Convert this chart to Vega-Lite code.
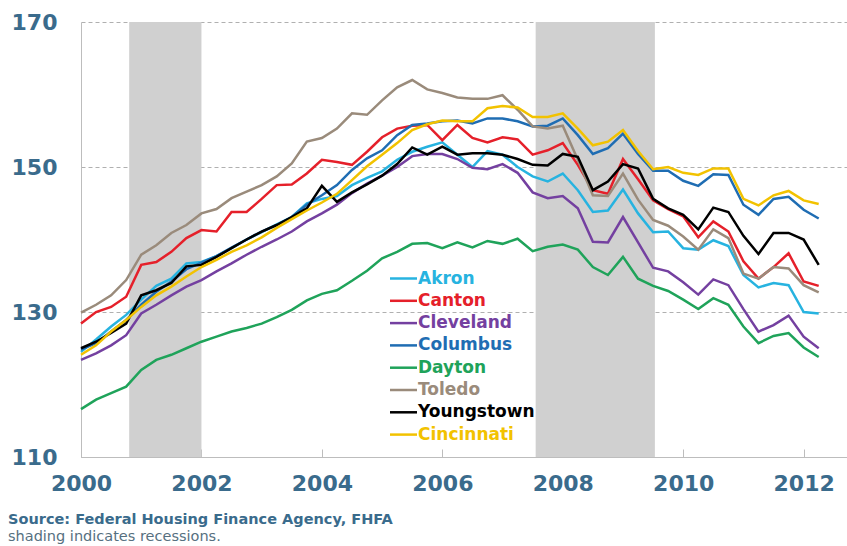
{
"$schema": "https://vega.github.io/schema/vega-lite/v6.json",
"width": 766, "height": 435,
"autosize": {"type": "none"},
"padding": {"left": 81, "top": 22, "right": 0, "bottom": 89},
"background": "white",
"config": {"view": {"stroke": null}, "font": "DejaVu Sans"},
"title": {"text": "Source: Federal Housing Finance Agency, FHFA", "subtitle": "shading indicates recessions.", "orient": "bottom", "anchor": "start", "frame": "group", "dx": -73, "offset": 19, "font": "DejaVu Sans", "fontSize": 14.5, "fontWeight": "bold", "color": "#3a6b8c", "subtitleFont": "DejaVu Sans", "subtitleFontSize": 14.5, "subtitleColor": "#56707f", "subtitlePadding": 2},
"datasets": {
"rec": [{"start": 2000.8, "end": 2002.0}, {"start": 2007.55, "end": 2009.53}],
"hpi": [
{"c":"Akron","t":2000,"v":124.5},{"c":"Akron","t":2000.25,"v":126.2},{"c":"Akron","t":2000.5,"v":128.0},{"c":"Akron","t":2000.75,"v":129.6},{"c":"Akron","t":2001,"v":131.7},{"c":"Akron","t":2001.25,"v":133.6},{"c":"Akron","t":2001.5,"v":134.6},{"c":"Akron","t":2001.75,"v":136.7},{"c":"Akron","t":2002,"v":136.9},{"c":"Akron","t":2002.25,"v":137.7},{"c":"Akron","t":2002.5,"v":138.8},{"c":"Akron","t":2002.75,"v":140.0},{"c":"Akron","t":2003,"v":141.0},{"c":"Akron","t":2003.25,"v":142.1},{"c":"Akron","t":2003.5,"v":143.1},{"c":"Akron","t":2003.75,"v":145.0},{"c":"Akron","t":2004,"v":145.6},{"c":"Akron","t":2004.25,"v":146.0},{"c":"Akron","t":2004.5,"v":147.5},{"c":"Akron","t":2004.75,"v":148.5},{"c":"Akron","t":2005,"v":149.4},{"c":"Akron","t":2005.25,"v":151.0},{"c":"Akron","t":2005.5,"v":152.1},{"c":"Akron","t":2005.75,"v":152.8},{"c":"Akron","t":2006,"v":153.4},{"c":"Akron","t":2006.25,"v":151.7},{"c":"Akron","t":2006.5,"v":150.0},{"c":"Akron","t":2006.75,"v":152.2},{"c":"Akron","t":2007,"v":151.7},{"c":"Akron","t":2007.25,"v":150.0},{"c":"Akron","t":2007.5,"v":148.7},{"c":"Akron","t":2007.75,"v":148.0},{"c":"Akron","t":2008,"v":149.1},{"c":"Akron","t":2008.25,"v":146.8},{"c":"Akron","t":2008.5,"v":143.8},{"c":"Akron","t":2008.75,"v":144.0},{"c":"Akron","t":2009,"v":146.9},{"c":"Akron","t":2009.25,"v":143.6},{"c":"Akron","t":2009.5,"v":141.0},{"c":"Akron","t":2009.75,"v":141.1},{"c":"Akron","t":2010,"v":138.8},{"c":"Akron","t":2010.25,"v":138.6},{"c":"Akron","t":2010.5,"v":139.9},{"c":"Akron","t":2010.75,"v":139.1},{"c":"Akron","t":2011,"v":135.1},{"c":"Akron","t":2011.25,"v":133.4},{"c":"Akron","t":2011.5,"v":134.0},{"c":"Akron","t":2011.75,"v":133.7},{"c":"Akron","t":2012,"v":130.0},{"c":"Akron","t":2012.25,"v":129.8},
{"c":"Canton","t":2000,"v":128.4},{"c":"Canton","t":2000.25,"v":130.0},{"c":"Canton","t":2000.5,"v":130.7},{"c":"Canton","t":2000.75,"v":132.1},{"c":"Canton","t":2001,"v":136.5},{"c":"Canton","t":2001.25,"v":136.9},{"c":"Canton","t":2001.5,"v":138.3},{"c":"Canton","t":2001.75,"v":140.2},{"c":"Canton","t":2002,"v":141.3},{"c":"Canton","t":2002.25,"v":141.1},{"c":"Canton","t":2002.5,"v":143.8},{"c":"Canton","t":2002.75,"v":143.8},{"c":"Canton","t":2003,"v":145.6},{"c":"Canton","t":2003.25,"v":147.5},{"c":"Canton","t":2003.5,"v":147.6},{"c":"Canton","t":2003.75,"v":149.1},{"c":"Canton","t":2004,"v":151.0},{"c":"Canton","t":2004.25,"v":150.7},{"c":"Canton","t":2004.5,"v":150.3},{"c":"Canton","t":2004.75,"v":152.1},{"c":"Canton","t":2005,"v":154.1},{"c":"Canton","t":2005.25,"v":155.3},{"c":"Canton","t":2005.5,"v":155.7},{"c":"Canton","t":2005.75,"v":155.8},{"c":"Canton","t":2006,"v":153.7},{"c":"Canton","t":2006.25,"v":155.8},{"c":"Canton","t":2006.5,"v":154.0},{"c":"Canton","t":2006.75,"v":153.4},{"c":"Canton","t":2007,"v":154.1},{"c":"Canton","t":2007.25,"v":153.8},{"c":"Canton","t":2007.5,"v":151.7},{"c":"Canton","t":2007.75,"v":152.3},{"c":"Canton","t":2008,"v":153.3},{"c":"Canton","t":2008.25,"v":150.3},{"c":"Canton","t":2008.5,"v":146.8},{"c":"Canton","t":2008.75,"v":146.3},{"c":"Canton","t":2009,"v":151.1},{"c":"Canton","t":2009.25,"v":148.3},{"c":"Canton","t":2009.5,"v":145.4},{"c":"Canton","t":2009.75,"v":144.2},{"c":"Canton","t":2010,"v":143.2},{"c":"Canton","t":2010.25,"v":140.3},{"c":"Canton","t":2010.5,"v":142.5},{"c":"Canton","t":2010.75,"v":141.1},{"c":"Canton","t":2011,"v":137.0},{"c":"Canton","t":2011.25,"v":134.6},{"c":"Canton","t":2011.5,"v":136.2},{"c":"Canton","t":2011.75,"v":138.1},{"c":"Canton","t":2012,"v":134.2},{"c":"Canton","t":2012.25,"v":133.6},
{"c":"Cleveland","t":2000,"v":123.4},{"c":"Cleveland","t":2000.25,"v":124.3},{"c":"Cleveland","t":2000.5,"v":125.4},{"c":"Cleveland","t":2000.75,"v":126.8},{"c":"Cleveland","t":2001,"v":129.8},{"c":"Cleveland","t":2001.25,"v":131.0},{"c":"Cleveland","t":2001.5,"v":132.3},{"c":"Cleveland","t":2001.75,"v":133.5},{"c":"Cleveland","t":2002,"v":134.4},{"c":"Cleveland","t":2002.25,"v":135.6},{"c":"Cleveland","t":2002.5,"v":136.7},{"c":"Cleveland","t":2002.75,"v":137.9},{"c":"Cleveland","t":2003,"v":139.0},{"c":"Cleveland","t":2003.25,"v":140.0},{"c":"Cleveland","t":2003.5,"v":141.1},{"c":"Cleveland","t":2003.75,"v":142.5},{"c":"Cleveland","t":2004,"v":143.6},{"c":"Cleveland","t":2004.25,"v":144.8},{"c":"Cleveland","t":2004.5,"v":146.4},{"c":"Cleveland","t":2004.75,"v":147.7},{"c":"Cleveland","t":2005,"v":148.8},{"c":"Cleveland","t":2005.25,"v":150.0},{"c":"Cleveland","t":2005.5,"v":151.5},{"c":"Cleveland","t":2005.75,"v":151.8},{"c":"Cleveland","t":2006,"v":151.8},{"c":"Cleveland","t":2006.25,"v":151.1},{"c":"Cleveland","t":2006.5,"v":149.9},{"c":"Cleveland","t":2006.75,"v":149.7},{"c":"Cleveland","t":2007,"v":150.4},{"c":"Cleveland","t":2007.25,"v":149.2},{"c":"Cleveland","t":2007.5,"v":146.5},{"c":"Cleveland","t":2007.75,"v":145.7},{"c":"Cleveland","t":2008,"v":146.0},{"c":"Cleveland","t":2008.25,"v":144.3},{"c":"Cleveland","t":2008.5,"v":139.7},{"c":"Cleveland","t":2008.75,"v":139.6},{"c":"Cleveland","t":2009,"v":143.1},{"c":"Cleveland","t":2009.25,"v":139.6},{"c":"Cleveland","t":2009.5,"v":136.1},{"c":"Cleveland","t":2009.75,"v":135.6},{"c":"Cleveland","t":2010,"v":134.1},{"c":"Cleveland","t":2010.25,"v":132.4},{"c":"Cleveland","t":2010.5,"v":134.5},{"c":"Cleveland","t":2010.75,"v":133.7},{"c":"Cleveland","t":2011,"v":130.4},{"c":"Cleveland","t":2011.25,"v":127.3},{"c":"Cleveland","t":2011.5,"v":128.2},{"c":"Cleveland","t":2011.75,"v":129.5},{"c":"Cleveland","t":2012,"v":126.6},{"c":"Cleveland","t":2012.25,"v":125.0},
{"c":"Columbus","t":2000,"v":124.8},{"c":"Columbus","t":2000.25,"v":125.7},{"c":"Columbus","t":2000.5,"v":127.3},{"c":"Columbus","t":2000.75,"v":128.9},{"c":"Columbus","t":2001,"v":131.0},{"c":"Columbus","t":2001.25,"v":132.8},{"c":"Columbus","t":2001.5,"v":134.2},{"c":"Columbus","t":2001.75,"v":135.9},{"c":"Columbus","t":2002,"v":136.8},{"c":"Columbus","t":2002.25,"v":137.7},{"c":"Columbus","t":2002.5,"v":138.9},{"c":"Columbus","t":2002.75,"v":140.0},{"c":"Columbus","t":2003,"v":141.1},{"c":"Columbus","t":2003.25,"v":142.0},{"c":"Columbus","t":2003.5,"v":143.1},{"c":"Columbus","t":2003.75,"v":144.8},{"c":"Columbus","t":2004,"v":146.1},{"c":"Columbus","t":2004.25,"v":147.5},{"c":"Columbus","t":2004.5,"v":149.6},{"c":"Columbus","t":2004.75,"v":151.2},{"c":"Columbus","t":2005,"v":152.3},{"c":"Columbus","t":2005.25,"v":154.4},{"c":"Columbus","t":2005.5,"v":155.8},{"c":"Columbus","t":2005.75,"v":156.0},{"c":"Columbus","t":2006,"v":156.3},{"c":"Columbus","t":2006.25,"v":156.4},{"c":"Columbus","t":2006.5,"v":156.0},{"c":"Columbus","t":2006.75,"v":156.7},{"c":"Columbus","t":2007,"v":156.7},{"c":"Columbus","t":2007.25,"v":156.3},{"c":"Columbus","t":2007.5,"v":155.6},{"c":"Columbus","t":2007.75,"v":155.7},{"c":"Columbus","t":2008,"v":156.7},{"c":"Columbus","t":2008.25,"v":154.4},{"c":"Columbus","t":2008.5,"v":151.8},{"c":"Columbus","t":2008.75,"v":152.6},{"c":"Columbus","t":2009,"v":154.6},{"c":"Columbus","t":2009.25,"v":151.8},{"c":"Columbus","t":2009.5,"v":149.5},{"c":"Columbus","t":2009.75,"v":149.5},{"c":"Columbus","t":2010,"v":148.1},{"c":"Columbus","t":2010.25,"v":147.4},{"c":"Columbus","t":2010.5,"v":149.0},{"c":"Columbus","t":2010.75,"v":148.9},{"c":"Columbus","t":2011,"v":144.8},{"c":"Columbus","t":2011.25,"v":143.4},{"c":"Columbus","t":2011.5,"v":145.6},{"c":"Columbus","t":2011.75,"v":145.9},{"c":"Columbus","t":2012,"v":144.1},{"c":"Columbus","t":2012.25,"v":142.9},
{"c":"Dayton","t":2000,"v":116.6},{"c":"Dayton","t":2000.25,"v":117.9},{"c":"Dayton","t":2000.5,"v":118.8},{"c":"Dayton","t":2000.75,"v":119.7},{"c":"Dayton","t":2001,"v":122.0},{"c":"Dayton","t":2001.25,"v":123.4},{"c":"Dayton","t":2001.5,"v":124.1},{"c":"Dayton","t":2001.75,"v":125.0},{"c":"Dayton","t":2002,"v":125.9},{"c":"Dayton","t":2002.25,"v":126.6},{"c":"Dayton","t":2002.5,"v":127.3},{"c":"Dayton","t":2002.75,"v":127.8},{"c":"Dayton","t":2003,"v":128.4},{"c":"Dayton","t":2003.25,"v":129.3},{"c":"Dayton","t":2003.5,"v":130.3},{"c":"Dayton","t":2003.75,"v":131.6},{"c":"Dayton","t":2004,"v":132.5},{"c":"Dayton","t":2004.25,"v":133.0},{"c":"Dayton","t":2004.5,"v":134.3},{"c":"Dayton","t":2004.75,"v":135.7},{"c":"Dayton","t":2005,"v":137.4},{"c":"Dayton","t":2005.25,"v":138.3},{"c":"Dayton","t":2005.5,"v":139.4},{"c":"Dayton","t":2005.75,"v":139.5},{"c":"Dayton","t":2006,"v":138.8},{"c":"Dayton","t":2006.25,"v":139.6},{"c":"Dayton","t":2006.5,"v":138.9},{"c":"Dayton","t":2006.75,"v":139.8},{"c":"Dayton","t":2007,"v":139.4},{"c":"Dayton","t":2007.25,"v":140.1},{"c":"Dayton","t":2007.5,"v":138.4},{"c":"Dayton","t":2007.75,"v":139.0},{"c":"Dayton","t":2008,"v":139.3},{"c":"Dayton","t":2008.25,"v":138.6},{"c":"Dayton","t":2008.5,"v":136.2},{"c":"Dayton","t":2008.75,"v":135.1},{"c":"Dayton","t":2009,"v":137.6},{"c":"Dayton","t":2009.25,"v":134.6},{"c":"Dayton","t":2009.5,"v":133.6},{"c":"Dayton","t":2009.75,"v":132.9},{"c":"Dayton","t":2010,"v":131.7},{"c":"Dayton","t":2010.25,"v":130.4},{"c":"Dayton","t":2010.5,"v":131.9},{"c":"Dayton","t":2010.75,"v":131.0},{"c":"Dayton","t":2011,"v":128.0},{"c":"Dayton","t":2011.25,"v":125.7},{"c":"Dayton","t":2011.5,"v":126.7},{"c":"Dayton","t":2011.75,"v":127.1},{"c":"Dayton","t":2012,"v":125.1},{"c":"Dayton","t":2012.25,"v":123.8},
{"c":"Toledo","t":2000,"v":129.9},{"c":"Toledo","t":2000.25,"v":131.0},{"c":"Toledo","t":2000.5,"v":132.3},{"c":"Toledo","t":2000.75,"v":134.4},{"c":"Toledo","t":2001,"v":137.9},{"c":"Toledo","t":2001.25,"v":139.2},{"c":"Toledo","t":2001.5,"v":140.9},{"c":"Toledo","t":2001.75,"v":142.0},{"c":"Toledo","t":2002,"v":143.6},{"c":"Toledo","t":2002.25,"v":144.2},{"c":"Toledo","t":2002.5,"v":145.7},{"c":"Toledo","t":2002.75,"v":146.6},{"c":"Toledo","t":2003,"v":147.5},{"c":"Toledo","t":2003.25,"v":148.7},{"c":"Toledo","t":2003.5,"v":150.5},{"c":"Toledo","t":2003.75,"v":153.5},{"c":"Toledo","t":2004,"v":154.0},{"c":"Toledo","t":2004.25,"v":155.3},{"c":"Toledo","t":2004.5,"v":157.4},{"c":"Toledo","t":2004.75,"v":157.2},{"c":"Toledo","t":2005,"v":159.2},{"c":"Toledo","t":2005.25,"v":161.0},{"c":"Toledo","t":2005.5,"v":162.0},{"c":"Toledo","t":2005.75,"v":160.7},{"c":"Toledo","t":2006,"v":160.2},{"c":"Toledo","t":2006.25,"v":159.6},{"c":"Toledo","t":2006.5,"v":159.4},{"c":"Toledo","t":2006.75,"v":159.4},{"c":"Toledo","t":2007,"v":159.9},{"c":"Toledo","t":2007.25,"v":157.9},{"c":"Toledo","t":2007.5,"v":155.6},{"c":"Toledo","t":2007.75,"v":155.3},{"c":"Toledo","t":2008,"v":155.7},{"c":"Toledo","t":2008.25,"v":151.0},{"c":"Toledo","t":2008.5,"v":146.1},{"c":"Toledo","t":2008.75,"v":146.0},{"c":"Toledo","t":2009,"v":149.1},{"c":"Toledo","t":2009.25,"v":145.5},{"c":"Toledo","t":2009.5,"v":142.7},{"c":"Toledo","t":2009.75,"v":141.9},{"c":"Toledo","t":2010,"v":140.4},{"c":"Toledo","t":2010.25,"v":138.6},{"c":"Toledo","t":2010.5,"v":141.4},{"c":"Toledo","t":2010.75,"v":140.2},{"c":"Toledo","t":2011,"v":135.3},{"c":"Toledo","t":2011.25,"v":134.6},{"c":"Toledo","t":2011.5,"v":136.2},{"c":"Toledo","t":2011.75,"v":136.0},{"c":"Toledo","t":2012,"v":133.7},{"c":"Toledo","t":2012.25,"v":132.7},
{"c":"Youngstown","t":2000,"v":125.0},{"c":"Youngstown","t":2000.25,"v":125.9},{"c":"Youngstown","t":2000.5,"v":127.1},{"c":"Youngstown","t":2000.75,"v":128.4},{"c":"Youngstown","t":2001,"v":132.3},{"c":"Youngstown","t":2001.25,"v":133.0},{"c":"Youngstown","t":2001.5,"v":134.0},{"c":"Youngstown","t":2001.75,"v":136.3},{"c":"Youngstown","t":2002,"v":136.5},{"c":"Youngstown","t":2002.25,"v":137.6},{"c":"Youngstown","t":2002.5,"v":138.8},{"c":"Youngstown","t":2002.75,"v":140.0},{"c":"Youngstown","t":2003,"v":141.1},{"c":"Youngstown","t":2003.25,"v":142.0},{"c":"Youngstown","t":2003.5,"v":143.1},{"c":"Youngstown","t":2003.75,"v":144.3},{"c":"Youngstown","t":2004,"v":147.4},{"c":"Youngstown","t":2004.25,"v":145.2},{"c":"Youngstown","t":2004.5,"v":146.5},{"c":"Youngstown","t":2004.75,"v":147.6},{"c":"Youngstown","t":2005,"v":148.8},{"c":"Youngstown","t":2005.25,"v":150.4},{"c":"Youngstown","t":2005.5,"v":152.7},{"c":"Youngstown","t":2005.75,"v":151.7},{"c":"Youngstown","t":2006,"v":152.8},{"c":"Youngstown","t":2006.25,"v":151.7},{"c":"Youngstown","t":2006.5,"v":151.9},{"c":"Youngstown","t":2006.75,"v":151.9},{"c":"Youngstown","t":2007,"v":151.7},{"c":"Youngstown","t":2007.25,"v":151.1},{"c":"Youngstown","t":2007.5,"v":150.3},{"c":"Youngstown","t":2007.75,"v":150.2},{"c":"Youngstown","t":2008,"v":151.8},{"c":"Youngstown","t":2008.25,"v":151.4},{"c":"Youngstown","t":2008.5,"v":146.8},{"c":"Youngstown","t":2008.75,"v":148.0},{"c":"Youngstown","t":2009,"v":150.4},{"c":"Youngstown","t":2009.25,"v":149.8},{"c":"Youngstown","t":2009.5,"v":145.6},{"c":"Youngstown","t":2009.75,"v":144.3},{"c":"Youngstown","t":2010,"v":143.4},{"c":"Youngstown","t":2010.25,"v":141.4},{"c":"Youngstown","t":2010.5,"v":144.4},{"c":"Youngstown","t":2010.75,"v":143.8},{"c":"Youngstown","t":2011,"v":140.5},{"c":"Youngstown","t":2011.25,"v":138.0},{"c":"Youngstown","t":2011.5,"v":140.9},{"c":"Youngstown","t":2011.75,"v":140.9},{"c":"Youngstown","t":2012,"v":140.0},{"c":"Youngstown","t":2012.25,"v":136.5},
{"c":"Cincinnati","t":2000,"v":124.1},{"c":"Cincinnati","t":2000.25,"v":125.4},{"c":"Cincinnati","t":2000.5,"v":127.3},{"c":"Cincinnati","t":2000.75,"v":128.9},{"c":"Cincinnati","t":2001,"v":130.7},{"c":"Cincinnati","t":2001.25,"v":132.3},{"c":"Cincinnati","t":2001.5,"v":133.5},{"c":"Cincinnati","t":2001.75,"v":134.9},{"c":"Cincinnati","t":2002,"v":136.2},{"c":"Cincinnati","t":2002.25,"v":137.2},{"c":"Cincinnati","t":2002.5,"v":138.3},{"c":"Cincinnati","t":2002.75,"v":139.2},{"c":"Cincinnati","t":2003,"v":140.3},{"c":"Cincinnati","t":2003.25,"v":141.6},{"c":"Cincinnati","t":2003.5,"v":142.8},{"c":"Cincinnati","t":2003.75,"v":144.0},{"c":"Cincinnati","t":2004,"v":145.1},{"c":"Cincinnati","t":2004.25,"v":146.3},{"c":"Cincinnati","t":2004.5,"v":148.2},{"c":"Cincinnati","t":2004.75,"v":150.1},{"c":"Cincinnati","t":2005,"v":151.7},{"c":"Cincinnati","t":2005.25,"v":153.3},{"c":"Cincinnati","t":2005.5,"v":155.1},{"c":"Cincinnati","t":2005.75,"v":155.9},{"c":"Cincinnati","t":2006,"v":156.4},{"c":"Cincinnati","t":2006.25,"v":156.3},{"c":"Cincinnati","t":2006.5,"v":156.3},{"c":"Cincinnati","t":2006.75,"v":158.1},{"c":"Cincinnati","t":2007,"v":158.4},{"c":"Cincinnati","t":2007.25,"v":158.2},{"c":"Cincinnati","t":2007.5,"v":156.9},{"c":"Cincinnati","t":2007.75,"v":156.9},{"c":"Cincinnati","t":2008,"v":157.4},{"c":"Cincinnati","t":2008.25,"v":155.3},{"c":"Cincinnati","t":2008.5,"v":153.0},{"c":"Cincinnati","t":2008.75,"v":153.5},{"c":"Cincinnati","t":2009,"v":155.1},{"c":"Cincinnati","t":2009.25,"v":152.2},{"c":"Cincinnati","t":2009.5,"v":149.7},{"c":"Cincinnati","t":2009.75,"v":150.0},{"c":"Cincinnati","t":2010,"v":149.2},{"c":"Cincinnati","t":2010.25,"v":148.9},{"c":"Cincinnati","t":2010.5,"v":149.8},{"c":"Cincinnati","t":2010.75,"v":149.8},{"c":"Cincinnati","t":2011,"v":145.6},{"c":"Cincinnati","t":2011.25,"v":144.7},{"c":"Cincinnati","t":2011.5,"v":146.1},{"c":"Cincinnati","t":2011.75,"v":146.7},{"c":"Cincinnati","t":2012,"v":145.4},{"c":"Cincinnati","t":2012.25,"v":144.9}
]},
"encoding": {
  "x": {"type": "quantitative", "scale": {"domain": [2000, 2012.72], "nice": false, "zero": false},
   "axis": {"title": null, "values": [2000, 2002, 2004, 2006, 2008, 2010, 2012], "format": "d", "grid": false, "domainColor": "#bdbdbd", "tickColor": "#bdbdbd", "tickSize": -8, "labelFlush": false, "labelFont": "DejaVu Sans", "labelFontSize": 22, "labelFontWeight": "bold", "labelColor": "#3a6b8c", "labelPadding": 24}}
},
"layer": [
{"data": {"name": "rec"}, "mark": {"type": "rect", "color": "#d0d0d0"},
 "encoding": {"x": {"field": "start", "type": "quantitative"}, "x2": {"field": "end"}}},
{"data": {"name": "hpi"}, "mark": {"type": "line", "strokeWidth": 2.5},
 "encoding": {
  "x": {"field": "t", "type": "quantitative"},
  "y": {"field": "v", "type": "quantitative", "scale": {"domain": [110, 170], "nice": false, "zero": false},
   "axis": {"title": null, "values": [110, 130, 150, 170], "grid": true, "gridDash": [4, 3], "gridColor": "#b0b0b0", "domainColor": "#bdbdbd", "ticks": false, "labelFlush": false, "labelFont": "DejaVu Sans", "labelFontSize": 22, "labelFontWeight": "bold", "labelColor": "#3a6b8c", "labelPadding": 24}},
  "color": {"field": "c", "type": "nominal", "sort": ["Akron", "Canton", "Cleveland", "Columbus", "Dayton", "Toledo", "Youngstown", "Cincinnati"],
   "scale": {"domain": ["Akron", "Canton", "Cleveland", "Columbus", "Dayton", "Toledo", "Youngstown", "Cincinnati"], "range": ["#27b3e0", "#e5202a", "#7440a0", "#1f6db3", "#1fa35a", "#9a8b7b", "#000000", "#f2c200"]},
   "legend": {"title": null, "orient": "none", "legendX": 314, "legendY": 248, "symbolType": "M-2.7,0H2.7", "symbolSize": 100, "symbolStrokeWidth": 2.5, "labelFont": "DejaVu Sans", "labelFontSize": 17, "labelFontWeight": "bold", "labelColor": {"expr": "scale('color', datum.value)"}, "labelOffset": 6, "rowPadding": 4.3}}
 }}
]
}
